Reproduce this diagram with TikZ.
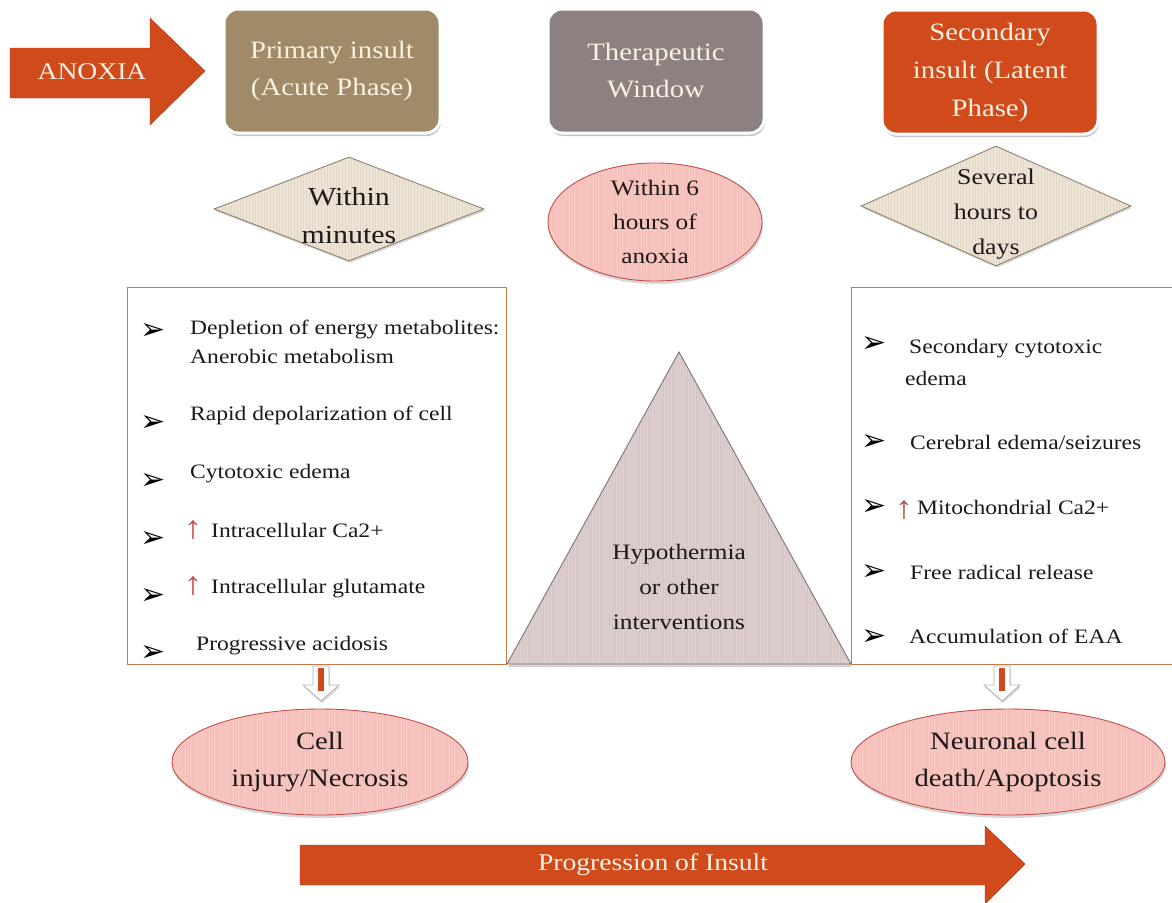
\documentclass[tikz,border=0pt]{standalone}
\usepackage{fontspec}
\setmainfont{Liberation Serif}[FakeStretch=1.15]
\newfontfamily\symfont{DejaVu Sans}
\usetikzlibrary{shapes.geometric,shadows,patterns}
\definecolor{orred}{RGB}{208,74,28}
\definecolor{khaki}{RGB}{160,138,104}
\definecolor{mauve}{RGB}{140,128,128}
\definecolor{beige}{RGB}{238,228,214}
\definecolor{beigeline}{RGB}{142,130,112}
\definecolor{pinkfill}{RGB}{248,198,192}
\definecolor{pinkline}{RGB}{192,80,77}
\definecolor{trifill}{RGB}{221,205,205}
\definecolor{triline}{RGB}{127,115,115}
\definecolor{boxline}{RGB}{200,121,74}
\definecolor{cream}{RGB}{248,242,226}
\definecolor{txt}{RGB}{30,25,25}
\tikzset{
  topbox/.style={rounded corners=14pt, draw=white, line width=3pt, minimum width=216pt, minimum height=124pt,
     text=cream, align=center, font=\fontsize{25}{37}\selectfont,
     drop shadow={opacity=0.45, shadow xshift=1pt, shadow yshift=-3pt}},
  dmd/.style={diamond, drop shadow={opacity=0.3, shadow xshift=1pt, shadow yshift=-2pt},
     preaction={fill=beige}, preaction={pattern=vertical lines, pattern color=beige!88!beigeline},
     draw=beigeline, line width=0.9pt, inner sep=0pt, align=center, text=txt},
  ell/.style={ellipse, drop shadow={opacity=0.3, shadow xshift=1pt, shadow yshift=-3pt},
     preaction={fill=pinkfill}, preaction={pattern=vertical lines, pattern color=pinkfill!92!pinkline},
     draw=pinkline, line width=0.9pt, inner sep=0pt, text=txt, align=center},
  listbox/.style={draw=boxline, line width=0.8pt, fill=white},
  item/.style={anchor=base west, inner sep=0pt, text=txt, font=\fontsize{20.5}{24}\selectfont},
  bul/.style={inner sep=0pt, text=black, font=\symfont\fontsize{30}{32}\selectfont},
  uparr/.style={inner sep=0pt, text=pinkline, font=\fontsize{32}{34}\selectfont},
  bigarrow/.style={fill=orred, draw=orred!80!black, line width=0.4pt},
  downarr/.style={fill=white, draw=gray!60, line width=0.8pt,
     drop shadow={opacity=0.3, shadow xshift=1pt, shadow yshift=-2pt}},
}
\begin{document}
\begin{tikzpicture}[x=1pt,y=-1pt]
\useasboundingbox (0,0) rectangle (1172,902);
\fill[white] (0,0) rectangle (1172,902);

% ANOXIA arrow
\coordinate (a1) at (10,48);
\filldraw[bigarrow] (a1) -- (150,48) -- (150,18) -- (205,71) -- (150,125) -- (150,98) -- (10,98) -- cycle;
\node[text=cream, font=\fontsize{24}{28}\selectfont] (anoxia) at (92,72) {ANOXIA};

% top boxes
\node[topbox, fill=khaki] (primary) at (332,71) {Primary insult\\(Acute Phase)};
\node[topbox, fill=mauve] (thera) at (656,71) {Therapeutic\\Window};
\node[topbox, fill=orred, font=\fontsize{25}{38}\selectfont] (second) at (990,72) {Secondary\\insult (Latent\\Phase)};

% diamonds and ellipse
\node[dmd, minimum width=270pt, minimum height=104pt] (dmin) at (349,209) {};
\node[align=center, text=txt, font=\fontsize{26}{38}\selectfont] (dmintext) at (349,216) {Within\\minutes};
\node[ell, minimum width=214pt, minimum height=100pt, font=\fontsize{22}{34}\selectfont] (e6) at (655,222) {Within 6\\hours of\\anoxia};
\node[dmd, minimum width=270pt, minimum height=120pt] (dsev) at (996,206) {};
\node[align=center, text=txt, font=\fontsize{22.5}{35}\selectfont] (dsevtext) at (996,214) {Several\\hours to\\days};

% list boxes
\filldraw[listbox] (127,287) rectangle (506,664);
\filldraw[listbox] (851,287) rectangle (1180,664);

% triangle
\coordinate (tA) at (679,352);
\coordinate (tB) at (507,664);
\coordinate (tC) at (851,664);
\draw[drop shadow={opacity=0.35, shadow xshift=1pt, shadow yshift=-3pt},
   preaction={fill=trifill}, preaction={pattern=vertical lines, pattern color=trifill!90!triline},
   draw=triline, line width=0.9pt] (tA) -- (tC) -- (tB) -- cycle;
\node[align=center, text=txt, font=\fontsize{22}{35}\selectfont] (hypo) at (679,587) {Hypothermia\\or other\\interventions};

% left list
\node[bul] (lb1) at (153,331) {➢};
\node[bul] (lb2) at (153,423) {➢};
\node[bul] (lb3) at (153,481) {➢};
\node[bul] (lb4) at (153,539) {➢};
\node[bul] (lb5) at (153,596) {➢};
\node[bul] (lb6) at (153,653) {➢};
\node[item] (l1) at (190,334) {Depletion of energy metabolites:};
\node[item] (l1b) at (190,363) {Anerobic metabolism};
\node[item] (l2) at (190,420) {Rapid depolarization of cell};
\node[item] (l3) at (190,478) {Cytotoxic edema};
\node[uparr] (u1) at (193,530) {↑};
\node[item] (l4) at (211,537) {Intracellular Ca2+};
\node[uparr] (u2) at (193,586) {↑};
\node[item] (l5) at (211,593) {Intracellular glutamate};
\node[item] (l6) at (196,650) {Progressive acidosis};

% right list
\node[bul] (rb1) at (874,344) {➢};
\node[bul] (rb2) at (874,442) {➢};
\node[bul] (rb3) at (874,507) {➢};
\node[bul] (rb4) at (874,572) {➢};
\node[bul] (rb5) at (874,637) {➢};
\node[item] (r1) at (909,353) {Secondary cytotoxic};
\node[item] (r1b) at (905,385) {edema};
\node[item] (r2) at (910,449) {Cerebral edema/seizures};
\node[uparr] (u3) at (904,510) {↑};
\node[item] (r3) at (917,514) {Mitochondrial Ca2+};
\node[item] (r4) at (910,579) {Free radical release};
\node[item] (r5) at (909,643) {Accumulation of EAA};

% bottom ellipses
\node[ell, minimum width=296pt, minimum height=106pt, font=\fontsize{25}{37}\selectfont] (necro) at (320,762) {Cell\\injury/Necrosis};
\node[ell, minimum width=314pt, minimum height=106pt, font=\fontsize{25}{37}\selectfont] (apop) at (1008,762) {Neuronal cell\\death/Apoptosis};

% small down arrows
\filldraw[downarr] (313,666) -- (329,666) -- (329,685) -- (339,685) -- (321,701) -- (303,685) -- (313,685) -- cycle;
\fill[orred] (318,668) rectangle (324,691);
\filldraw[downarr] (994,666) -- (1010,666) -- (1010,685) -- (1020,685) -- (1002,701) -- (984,685) -- (994,685) -- cycle;
\fill[orred] (999,668) rectangle (1005,691);

% progression arrow
\filldraw[bigarrow] (300,845) -- (985,845) -- (985,826) -- (1025,864) -- (985,904) -- (985,885) -- (300,885) -- cycle;
\node[text=cream, font=\fontsize{24}{28}\selectfont] (prog) at (653,865) {Progression of Insult};
\end{tikzpicture}
\end{document}
